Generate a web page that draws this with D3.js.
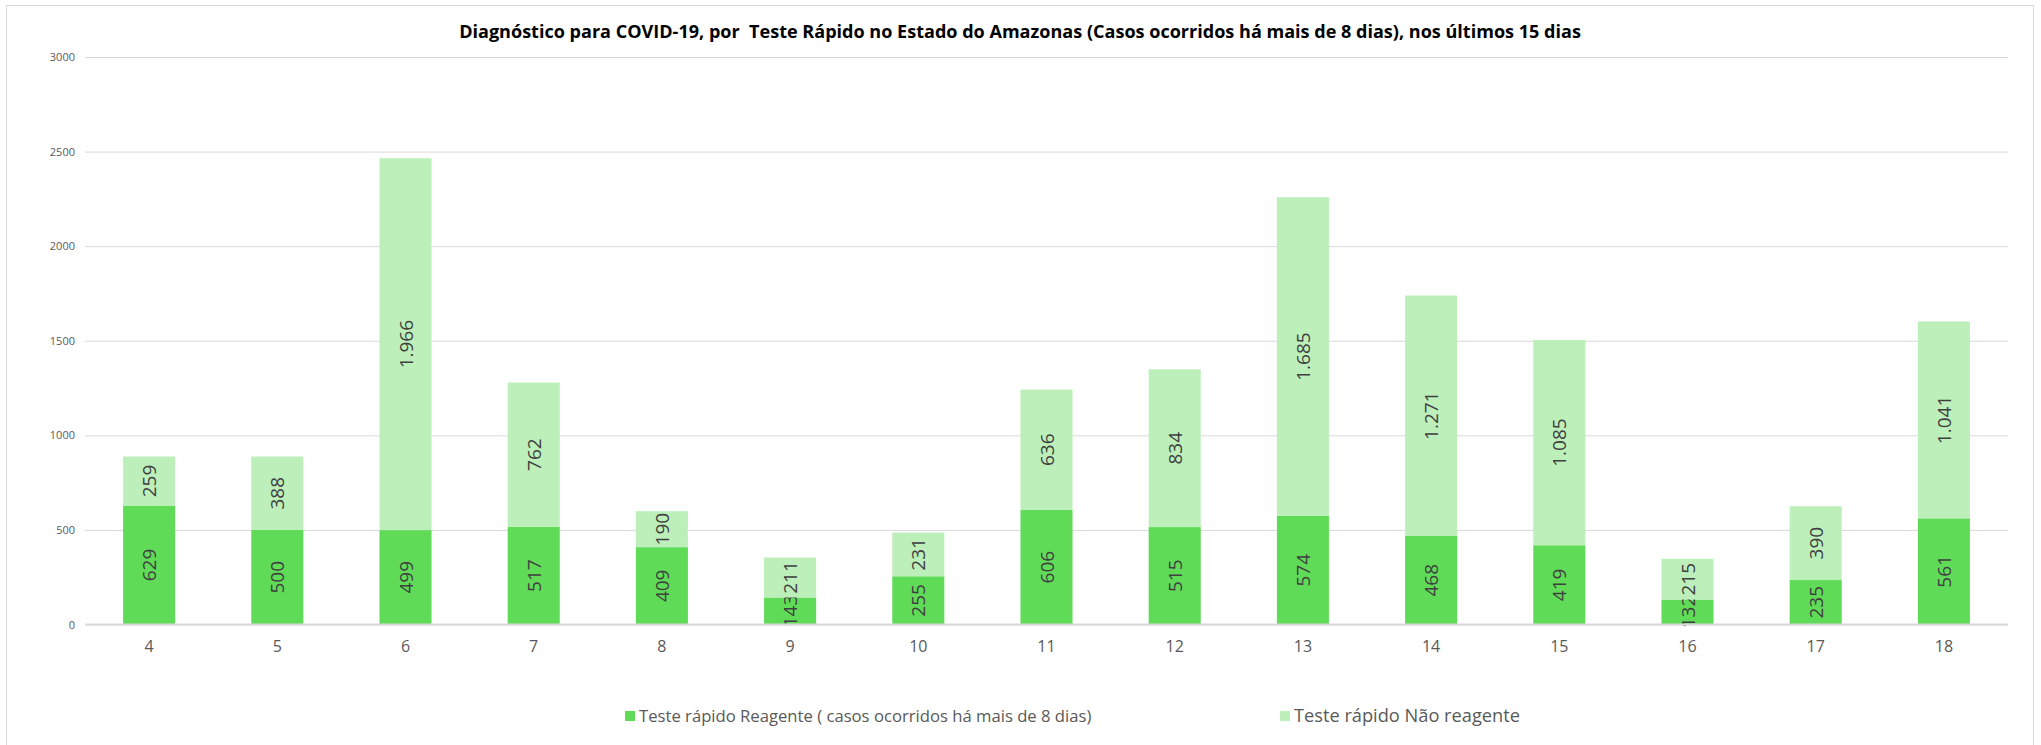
<!DOCTYPE html>
<html lang="pt">
<head>
<meta charset="utf-8">
<title>Teste Rápido Amazonas</title>
<style>
  body { margin: 0; background: #fff; }
  svg text { font-family: "Open Sans", sans-serif; }
</style>
</head>
<body>
<svg id="chart" width="2041" height="745"></svg>
<script src="https://d3js.org/d3.v7.min.js"></script>
<script>
    const dias = ["4", "5", "6", "7", "8", "9", "10", "11", "12", "13", "14", "15", "16", "17", "18"]
    const reagente = [629, 500, 499, 517, 409, 143, 255, 606, 515, 574, 468, 419, 132, 235, 561]
    const naoReagente = [259, 388, 1966, 762, 190, 211, 231, 636, 834, 1685, 1271, 1085, 215, 390, 1041]
    const yTicks = [0, 500, 1000, 1500, 2000, 2500, 3000]
    const serieNomes = ["Teste rápido Reagente ( casos ocorridos há mais de 8 dias)", "Teste rápido Não reagente"]
    const cores = ["#5fdb58", "#bcefb9"]
    const titulo = "Diagnóstico para COVID-19, por  Teste Rápido no Estado do Amazonas (Casos ocorridos há mais de 8 dias), nos últimos 15 dias"

    const svg = d3.select("#chart")
    const ptBR = d3.formatLocale({ decimal: ",", thousands: ".", grouping: [3], currency: ["R$", ""] })
    const fmt = ptBR.format(",d")

    const left = 85, right = 2008

    // fit a text element's font size so its width matches target
    function fitWidth(sel, target) {
        let w = sel.node().getComputedTextLength()
        let size = parseFloat(sel.attr("font-size"))
        sel.attr("font-size", size * target / w)
    }

    // outer frame
    svg.append("rect")
        .attr("x", 6.5).attr("y", 5.5)
        .attr("width", 2027).attr("height", 745)
        .attr("fill", "none").attr("stroke", "#d9d9d9")

    let x = d3.scaleBand()
        .domain(dias)
        .range([left, right])
        .paddingInner(0.594)
        .paddingOuter(0.297)

    let y = d3.scaleLinear()
        .domain([0, 3000])
        .range([624.5, 57])

    // gridlines + y labels
    let yAxis = d3.axisLeft(y)
        .tickValues(yTicks)
        .tickSize(-(right - left))
        .tickPadding(10)
        .tickFormat(d => d)
    let gy = svg.append("g")
        .attr("transform", "translate(" + left + ",0)")
        .call(yAxis)
    gy.select(".domain").remove()
    gy.selectAll(".tick line").attr("stroke", "#d9d9d9")
    gy.selectAll(".tick text")
        .attr("fill", "#595959")
        .attr("font-size", 11)
        .style("font-family", "Open Sans, sans-serif")

    let series = d3.stack().keys([0, 1])(dias.map((d, i) => ({ dia: d, 0: reagente[i], 1: naoReagente[i] })))

    let groups = svg.append("g").selectAll("g")
        .data(series)
        .join("g")
        .attr("fill", (d, i) => cores[i])

    groups.selectAll("rect")
        .data(d => d)
        .join("rect")
        .attr("x", d => x(d.data.dia))
        .attr("width", x.bandwidth())
        .attr("y", d => y(d[1]))
        .attr("height", d => y(d[0]) - y(d[1]))

    // value labels, rotated
    groups.selectAll("text")
        .data(d => d.map(v => ({ v: v, val: v[1] - v[0] })))
        .join("text")
        .attr("transform", d => {
            let cx = x(d.v.data.dia) + x.bandwidth() / 2
            let cy = (y(d.v[0]) + y(d.v[1])) / 2
            return "translate(" + cx + "," + cy + ") rotate(-90)"
        })
        .attr("text-anchor", "middle")
        .attr("dominant-baseline", "central")
        .attr("fill", "#404040")
        .attr("font-size", 19)
        .text(d => fmt(d.val))

    // baseline
    svg.append("line")
        .attr("x1", left).attr("x2", right)
        .attr("y1", y(0)).attr("y2", y(0))
        .attr("stroke", "#d9d9d9").attr("stroke-width", 2)

    // x labels
    let xAxis = d3.axisBottom(x).tickSize(0).tickPadding(16)
    let gx = svg.append("g")
        .attr("transform", "translate(0," + y(0) + ")")
        .call(xAxis)
    gx.select(".domain").remove()
    gx.selectAll(".tick text")
        .attr("fill", "#595959")
        .attr("font-size", 16)
        .style("font-family", "Open Sans, sans-serif")

    // title
    let t = svg.append("text")
        .attr("x", 1020).attr("y", 38)
        .attr("text-anchor", "middle")
        .attr("font-weight", "bold")
        .attr("font-size", 17)
        .attr("fill", "#000")
        .style("white-space", "pre")
        .text(titulo)
    fitWidth(t, 1122)

    // legend
    const legX = [625, 1280]
    const legW = [453, 226]
    serieNomes.forEach((nome, i) => {
        svg.append("rect")
            .attr("x", legX[i]).attr("y", 711)
            .attr("width", 10).attr("height", 10)
            .attr("fill", cores[i])
        let lt = svg.append("text")
            .attr("x", legX[i] + 14).attr("y", 722)
            .attr("font-size", 15)
            .attr("fill", "#595959")
            .text(nome)
        fitWidth(lt, legW[i])
    })
</script>
</body>
</html>
